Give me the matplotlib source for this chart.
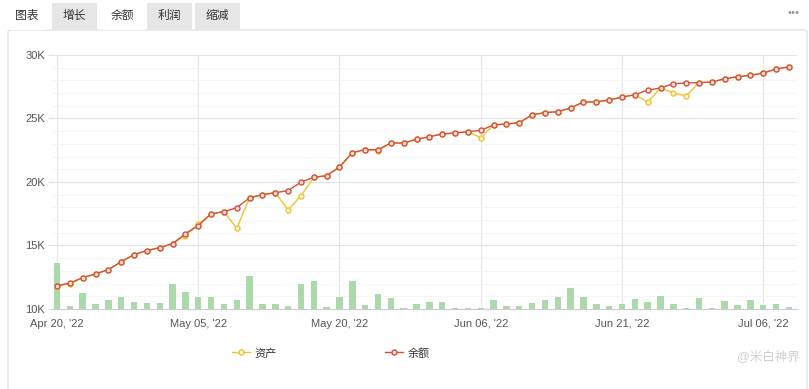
import matplotlib
matplotlib.use("Agg")
import matplotlib.pyplot as plt
from matplotlib.patches import Rectangle, FancyBboxPatch
from matplotlib.lines import Line2D
from matplotlib.ticker import MultipleLocator, FuncFormatter

plt.rcParams['font.family'] = ['Liberation Sans', 'Noto Sans CJK SC', 'DejaVu Sans']

# daily series (trading days), values in dollars
balance = [11830, 12050, 12470, 12760, 13100, 13730, 14280, 14600, 14830, 15150,
           15930, 16560, 17500, 17660, 17980, 18760, 19000, 19160, 19320, 20000,
           20370, 20500, 21180, 22310, 22550, 22550, 23070, 23070, 23360, 23570,
           23780, 23860, 23960, 24070, 24490, 24570, 24670, 25290, 25460, 25540,
           25830, 26300, 26300, 26460, 26690, 26870, 27240, 27400, 27740, 27800,
           27820, 27870, 28130, 28290, 28400, 28580, 28900, 29060]
assets = [11830, 11970, 12470, 12760, 13100, 13730, 14280, 14600, 14830, 15150,
          15780, 16680, 17500, 17660, 16350, 18760, 19000, 19160, 17800, 18920,
          20370, 20500, 21180, 22310, 22550, 22480, 23070, 23070, 23360, 23570,
          23780, 23860, 23960, 23490, 24490, 24570, 24670, 25290, 25460, 25540,
          25830, 26300, 26300, 26460, 26690, 26870, 26300, 27400, 27030, 26770,
          27820, 27870, 28130, 28290, 28400, 28580, 28900, 29060]
volume = [3650, 240, 1240, 390, 680, 940, 530, 450, 450, 1940,
          1310, 940, 940, 390, 680, 2570, 390, 390, 210, 1940,
          2190, 150, 940, 2200, 330, 1160, 840, 90, 370, 530,
          530, 60, 60, 60, 680, 210, 210, 450, 680, 940,
          1680, 940, 420, 210, 420, 760, 530, 1020, 420, 110,
          840, 110, 600, 290, 680, 290, 420, 160]
tick_idx = [0, 11, 22, 33, 44, 55]
tick_labels = ["Apr 20, '22", "May 05, '22", "May 20, '22", "Jun 06, '22", "Jun 21, '22", "Jul 06, '22"]
y_ticks = [10000, 15000, 20000, 25000, 30000]
tabs = ["图表", "增长", "余额", "利润", "缩减"]

W, H = 809, 389
fig = plt.figure(figsize=(W / 100, H / 100), dpi=100)
fig.patch.set_facecolor('white')

# panel frame
fig.patches.append(FancyBboxPatch((8 / W, -0.05), 799 / W, 1.05 - 30 / H,
                                  boxstyle="round,pad=0,rounding_size=0.005",
                                  transform=fig.transFigure, facecolor='none',
                                  edgecolor='#e3e3e3', lw=1, zorder=0))

# tabs
tab_x = [(8, 46), (52, 97), (100, 145), (147, 192), (195, 240)]
for i, (name, (x0, x1)) in enumerate(zip(tabs, tab_x)):
    fc = 'white' if i == 0 or name == "余额" else '#e6e6e6'
    fig.patches.append(Rectangle((x0 / W, 1 - 30 / H), (x1 - x0) / W, 27 / H,
                                 transform=fig.transFigure, facecolor=fc,
                                 edgecolor='none', zorder=1))
    fig.text((x0 + x1) / 2 / W, 1 - 16 / H, name, ha='center', va='center',
             fontsize=8.5, color='#333333')
fig.text(793 / W, 1 - 13 / H, "•••", ha='center', va='center', fontsize=8, color='#999999')

ax = fig.add_axes([52 / W, 1 - 309 / H, 745 / W, 254 / H])
ax.set_zorder(3)
ax.set_facecolor('none')
x = list(range(len(balance)))

ax.bar(x, volume, bottom=y_ticks[0], width=0.5, color='#acd9ac', zorder=2)
ax.plot(x, assets, color='#f0c330', lw=1.0, marker='o', ms=3.6, mfc='#fff8e0',
        mec='#f0c330', mew=1.0, zorder=3)
ax.plot(x, balance, color='#d2513a', lw=1.0, marker='o', ms=3.6, mfc='#fbe0d8',
        mec='#d2513a', mew=1.0, zorder=4)

ax.set_xlim(-0.39, 57.63)
ax.set_ylim(y_ticks[0], y_ticks[-1])
ax.set_xticks(tick_idx)
ax.set_xticklabels(tick_labels)
ax.set_yticks(y_ticks)
ax.yaxis.set_major_formatter(FuncFormatter(lambda v, p: f"{int(v / 1000)}K"))
ax.yaxis.set_minor_locator(MultipleLocator(1000))
ax.grid(axis='y', which='major', color='#e4e4e4', lw=0.8, zorder=0)
ax.grid(axis='y', which='minor', color='#f4f4f4', lw=0.6, zorder=0)
ax.grid(axis='x', which='major', color='#e4e4e4', lw=0.8, zorder=0)
for s in ['top', 'right', 'left']:
    ax.spines[s].set_visible(False)
ax.spines['bottom'].set_color('#cccccc')
ax.tick_params(axis='y', which='major', length=3, color='#dddddd', labelsize=8,
               labelcolor='#555555', pad=2)
ax.tick_params(axis='y', which='minor', length=0)
ax.tick_params(axis='x', length=0, labelsize=8, labelcolor='#555555', pad=7)

handles = [Line2D([], [], color='#f0c330', lw=1.0, marker='o', ms=3.6, mfc='#fff8e0', mec='#f0c330'),
           Line2D([], [], color='#d2513a', lw=1.0, marker='o', ms=3.6, mfc='#fbe0d8', mec='#d2513a')]
fig.legend(handles, ["资产", "余额"], loc='center', bbox_to_anchor=(331 / W, 1 - 353 / H),
           ncol=2, frameon=False, fontsize=8, handlelength=1.6, handletextpad=0.4,
           columnspacing=9.8, labelcolor='#333333')

fig.text(800 / W, 1 - 357 / H, "@米白神界", ha='right', va='center', fontsize=9, color='#cfcfcf')

fig.savefig("out.png", dpi=100)
